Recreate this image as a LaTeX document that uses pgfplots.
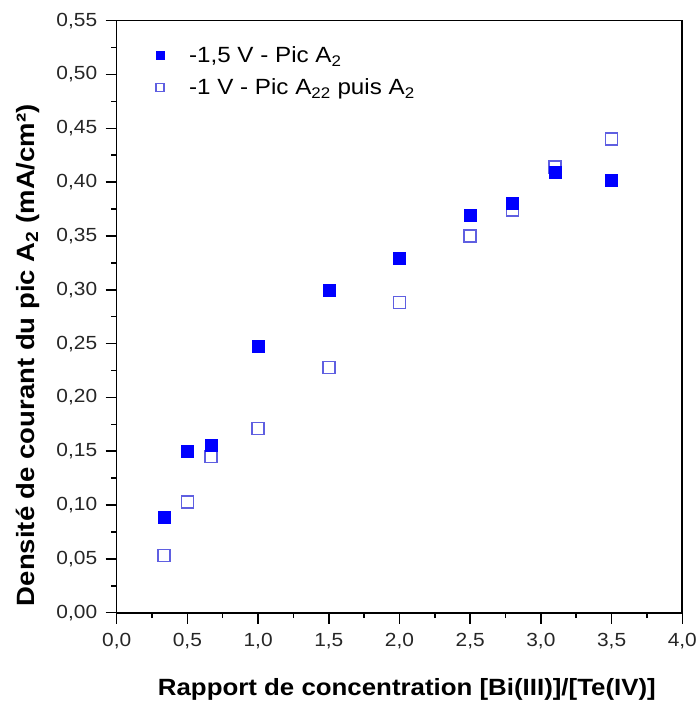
\documentclass[border=0pt]{standalone}
\usepackage{pgfplots}
\pgfplotsset{compat=1.18}
\usepackage{fontspec}
\setmainfont{Liberation Sans}[FakeStretch=1.1]
\definecolor{fullblue}{RGB}{0,0,255}
\definecolor{openblue}{RGB}{95,95,225}
\begin{document}
\begin{tikzpicture}
\begin{axis}[
  scale only axis, width=565.6pt, height=592pt,
  xmin=0, xmax=4, ymin=0, ymax=0.55,
  xtick={0,0.5,1,1.5,2,2.5,3,3.5,4},
  xticklabels={{0,0},{0,5},{1,0},{1,5},{2,0},{2,5},{3,0},{3,5},{4,0}},
  ytick={0,0.05,0.1,0.15,0.2,0.25,0.3,0.35,0.4,0.45,0.5,0.55},
  yticklabels={{0,00},{0,05},{0,10},{0,15},{0,20},{0,25},{0,30},{0,35},{0,40},{0,45},{0,50},{0,55}},
  minor x tick num=1, minor y tick num=1,
  xtick pos=bottom, ytick pos=left, tick align=outside,
  major tick length=11pt, minor tick length=5.5pt,
  every tick/.style={black, line width=1.5pt},
  axis line style={line width=1.6pt},
  tick label style={font=\fontsize{19}{21}\selectfont, black!85},
  xticklabel style={yshift=-6pt},
  yticklabel style={xshift=-5pt},
  xlabel={Rapport de concentration [Bi(III)]/[Te(IV)]},
  ylabel={Densité de courant du pic A\textsubscript{2} (mA/cm²)},
  xlabel style={font=\fontsize{23.5}{26}\selectfont\bfseries, at={(axis description cs:0.513,-0.1407)}, anchor=base},
  ylabel style={font=\fontsize{25}{28}\selectfont\bfseries, at={(axis description cs:-0.157,0.435)}, anchor=center},
  legend style={draw=none, fill=none, at={(axis description cs:0.064,0.9636)}, anchor=north west,
    font=\fontsize{22}{24}\selectfont, row sep=11pt,
    nodes={inner xsep=4pt},
    /tikz/every odd column/.append style={column sep=21pt}},
  legend cell align=left,
]
\addlegendimage{only marks, mark=square*, mark size=4pt, fullblue, mark options={draw=fullblue, fill=fullblue}}
\addlegendentry{-1,5 V - Pic A\textsubscript{2}}
\addlegendimage{only marks, mark=square, mark size=4pt, openblue, mark options={line width=1.2pt}}
\addlegendentry{-1 V - Pic A\textsubscript{22} puis A\textsubscript{2}}
\addplot[only marks, mark=square, mark size=6pt, openblue, mark options={line width=1.5pt}, forget plot] coordinates {
 (0.333,0.053) (0.5,0.103) (0.667,0.145) (1,0.171) (1.5,0.228) (2,0.288) (2.5,0.350) (2.8,0.374) (3.1,0.414) (3.5,0.440)
};
\addplot[only marks, mark=square*, mark size=6pt, fullblue, mark options={draw=fullblue, fill=fullblue}, forget plot] coordinates {
 (0.333,0.089) (0.5,0.150) (0.667,0.156) (1,0.248) (1.5,0.300) (2,0.329) (2.5,0.369) (2.8,0.380) (3.1,0.409) (3.5,0.402)
};
\end{axis}
\pgfresetboundingbox
\path ([shift={(-116.7pt,-91.3pt)}]current axis.south west) rectangle ([shift={(17.7pt,20.7pt)}]current axis.north east);
\end{tikzpicture}
\end{document}
